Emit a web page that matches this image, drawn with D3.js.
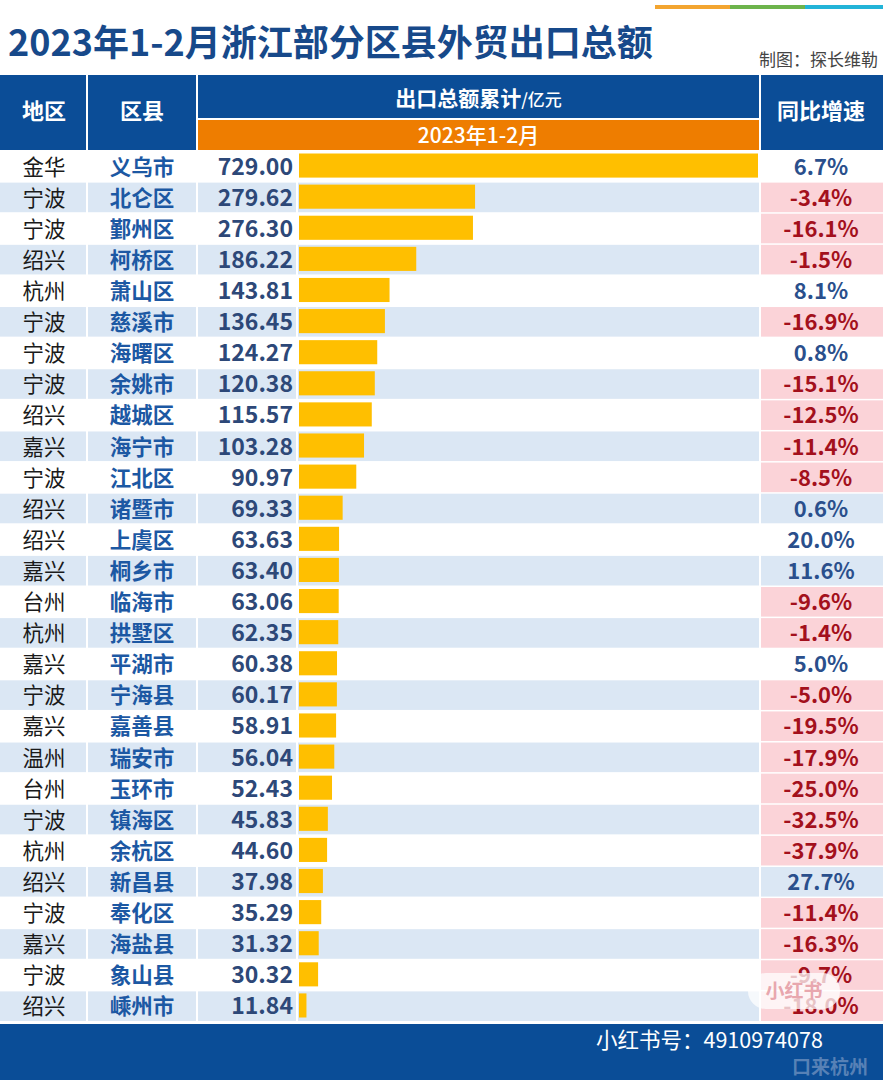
<!DOCTYPE html>
<html><head><meta charset="utf-8">
<script src="https://cdn.jsdelivr.net/npm/d3@7"></script>
<style>html,body{margin:0;padding:0;background:#fff;}svg{display:block;}</style>
</head><body>
<script>
const regions = ["金华","宁波","宁波","绍兴","杭州","宁波","宁波","宁波","绍兴","嘉兴","宁波","绍兴","绍兴","嘉兴","台州","杭州","嘉兴","宁波","嘉兴","温州","台州","宁波","杭州","绍兴","宁波","嘉兴","宁波","绍兴"];
const counties = ["义乌市","北仑区","鄞州区","柯桥区","萧山区","慈溪市","海曙区","余姚市","越城区","海宁市","江北区","诸暨市","上虞区","桐乡市","临海市","拱墅区","平湖市","宁海县","嘉善县","瑞安市","玉环市","镇海区","余杭区","新昌县","奉化区","海盐县","象山县","嵊州市"];
const exportValues = [729.00,279.62,276.30,186.22,143.81,136.45,124.27,120.38,115.57,103.28,90.97,69.33,63.63,63.40,63.06,62.35,60.38,60.17,58.91,56.04,52.43,45.83,44.60,37.98,35.29,31.32,30.32,11.84];
const growth = [6.7,-3.4,-16.1,-1.5,8.1,-16.9,0.8,-15.1,-12.5,-11.4,-8.5,0.6,20.0,11.6,-9.6,-1.4,5.0,-5.0,-19.5,-17.9,-25.0,-32.5,-37.9,27.7,-11.4,-16.3,-9.7,-18.0];
const headers = ["地区","区县","出口总额累计","同比增速"];

const W = 883, H = 1080;
const FONT = "'Noto Sans CJK SC','Noto Sans',sans-serif";
const BLUE = "#0b4d97";
const svg = d3.select("body").append("svg").attr("width", W).attr("height", H)
  .style("font-family", FONT);

// top color strip
[["#f3a530",655,730],["#6db44c",730,805],["#22b4d8",805,883]].forEach(([c,a,b])=>{
  svg.append("rect").attr("x",a).attr("y",5).attr("width",b-a).attr("height",4).attr("fill",c);
});

// title
svg.append("text").attr("x",8).attr("y",56).attr("font-size",36).attr("font-weight",700)
  .attr("fill","#17498a").text("2023年1-2月浙江部分区县外贸出口总额");
svg.append("text").attr("x",878).attr("y",66).attr("text-anchor","end").attr("font-size",17)
  .attr("fill","#444").text("制图：探长维勒");

// columns
const cols = {
  region: [0, 86],
  county: [88, 196],
  value: [198, 296],
  bar: [298, 759],
  pct: [761, 883]
};
const headTop = 75, headBot = 150;
svg.append("rect").attr("x",cols.region[0]).attr("y",headTop).attr("width",cols.region[1]-cols.region[0]).attr("height",headBot-headTop).attr("fill",BLUE);
svg.append("rect").attr("x",cols.county[0]).attr("y",headTop).attr("width",cols.county[1]-cols.county[0]).attr("height",headBot-headTop).attr("fill",BLUE);
svg.append("rect").attr("x",cols.value[0]).attr("y",headTop).attr("width",cols.bar[1]-cols.value[0]).attr("height",118-headTop).attr("fill",BLUE);
svg.append("rect").attr("x",cols.value[0]).attr("y",120).attr("width",cols.bar[1]-cols.value[0]).attr("height",headBot-120).attr("fill","#ee7d00");
svg.append("rect").attr("x",cols.pct[0]).attr("y",headTop).attr("width",cols.pct[1]-cols.pct[0]).attr("height",headBot-headTop).attr("fill",BLUE);

const ht = (x,y,s,size,anchor="middle") => svg.append("text").attr("x",x).attr("y",y)
  .attr("text-anchor",anchor).attr("font-size",size).attr("font-weight",700).attr("fill","#fff").text(s);
ht(44,119,headers[0],22);
ht(142,119,headers[1],22);
ht(821,119,headers[3],22);
const t = svg.append("text").attr("x",(cols.value[0]+cols.bar[1])/2).attr("y",106)
  .attr("text-anchor","middle").attr("fill","#fff").attr("font-weight",700);
t.append("tspan").attr("font-size",21).text(headers[2]);
t.append("tspan").attr("font-size",17).attr("font-weight",500).text("/亿元");
ht((cols.value[0]+cols.bar[1])/2,142.5,"2023年1-2月",21).attr("font-weight",500);

// rows
const rowTop = 151, rowBot = 1022;
const y = d3.scaleBand().domain(d3.range(counties.length)).range([rowTop,rowBot]).paddingInner(0);
const x = d3.scaleLinear().domain([0, 729]).range([299, 758]);

const rows = svg.append("g").selectAll("g").data(counties).join("g")
  .attr("transform",(d,i)=>`translate(0,${y(i)})`);
const bh = y.bandwidth();

rows.each(function(d,i){
  const g = d3.select(this);
  const bg = i % 2 === 1 ? "#dbe7f4" : "#ffffff";
  Object.entries(cols).forEach(([k,[a,b]])=>{
    let fill = bg;
    if (k === "pct" && growth[i] < 0) fill = "#fbd3d8";
    g.append("rect").attr("x",a).attr("y",0.5).attr("width",b-a).attr("height",bh-1.5).attr("fill",fill);
  });
  g.append("rect").attr("x",x(0)).attr("y",2.5).attr("width",x(exportValues[i])-x(0)).attr("height",bh-7)
    .attr("fill","#ffbf00");
  const cy = bh/2 + 8;
  g.append("text").attr("x",44).attr("y",cy).attr("text-anchor","middle").attr("font-size",21.5)
    .attr("fill","#1a1a1a").text(regions[i]);
  g.append("text").attr("x",142).attr("y",cy).attr("text-anchor","middle").attr("font-size",21.5)
    .attr("font-weight",700).attr("fill","#1c58a3").text(counties[i]);
  g.append("text").attr("x",293).attr("y",cy).attr("text-anchor","end").attr("font-size",23)
    .attr("font-weight",700).attr("fill","#2d4878").text(exportValues[i].toFixed(2));
  g.append("text").attr("x",821).attr("y",cy).attr("text-anchor","middle").attr("font-size",22)
    .attr("font-weight",700).attr("fill", growth[i] < 0 ? "#a3101c" : "#2a4f8c")
    .text(growth[i].toFixed(1) + "%");
});

// footer
svg.append("rect").attr("x",0).attr("y",1024).attr("width",W).attr("height",H-1024).attr("fill","#0a4d97");
svg.append("text").attr("x",596).attr("y",1048).attr("font-size",21.5).attr("fill","#fff")
  .text("小红书号：4910974078");
// watermarks
svg.append("text").attr("x",830).attr("y",1074).attr("text-anchor","middle").attr("font-size",19)
  .attr("font-weight",700).attr("fill","#8aa5cc").attr("opacity",0.6).text("口来杭州");
svg.append("rect").attr("x",748).attr("y",973).attr("width",92).attr("height",36).attr("rx",18)
  .attr("fill","#ffffff").attr("opacity",0.75);
svg.append("text").attr("x",794).attr("y",998).attr("text-anchor","middle").attr("font-size",19)
  .attr("font-weight",700).attr("fill","#e8a7ae").text("小红书");
</script>
</body></html>
